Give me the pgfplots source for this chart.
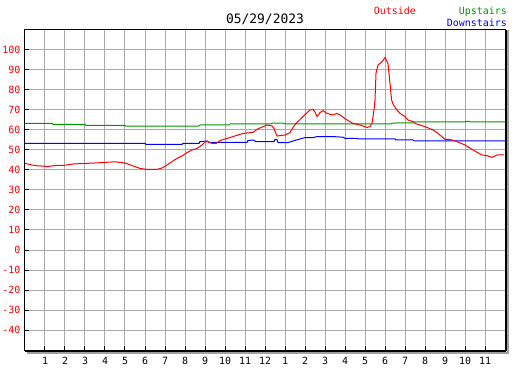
\documentclass[border=0pt]{standalone}
\usepackage{fontspec}
\setmainfont{DejaVu Sans Mono}
\usepackage{pgfplots}
\pgfplotsset{compat=1.18}
\definecolor{gridgray}{RGB}{170,170,170}
\definecolor{upgreen}{RGB}{0,150,0}
\definecolor{shadow}{RGB}{160,160,160}
\begin{document}
\begin{tikzpicture}
\useasboundingbox (-25bp,-20bp) rectangle (502bp,350bp);
\begin{axis}[
  at={(0,0)}, anchor=south west,
  scale only axis, width=480bp, height=320bp,
  xmin=0, xmax=24, ymin=-50, ymax=110,
  xtick={1,...,23},
  xticklabels={1,2,3,4,5,6,7,8,9,10,11,12,1,2,3,4,5,6,7,8,9,10,11},
  ytick={-40,-30,...,100},
  grid=major,
  major grid style={gridgray, line width=1bp},
  tick align=inside,
  tick pos=left,
  major tick length=4bp,
  tick style={black, line width=1bp},
  axis line style={black, line width=1bp},
  tick label style={font=\fontsize{10}{12}\selectfont},
  yticklabel style={red, xshift=-1bp},
  xticklabel style={yshift=-4bp},
  /pgf/number format/assume math mode=true,
  clip=true,
]
\addplot[upgreen, line width=1bp] coordinates {
(0,63.3) (1.35,63.3) (1.4,62.8) (3.0,62.8) (3.05,62.3) (5.0,62.3) (5.05,61.9)
(8.7,62.0) (8.75,62.5) (10.2,62.5) (10.25,63) (12.3,63) (12.35,63.4) (12.9,63.4)
(13.0,63) (18.3,63) (18.35,63.4) (18.6,63.5) (19.4,63.5) (19.45,64) (22,64)
(22.05,64.3) (22.2,64.3) (22.25,64) (24,64)
};
\addplot[blue, line width=1bp] coordinates {
(0,53.3) (6.0,53.3) (6.05,52.8) (7.85,52.8) (7.9,53.3) (8.7,53.3) (8.75,54.2)
(9.1,54.5) (9.2,53.8) (11.1,53.8) (11.15,54.7) (11.4,55) (11.55,54.2) (12.45,54.2)
(12.5,55.2) (12.6,55.2) (12.65,53.7) (13.15,53.7) (13.5,54.8) (13.75,55.5)
(14.0,56.2) (14.4,56.2) (14.6,56.7) (15.4,56.7) (15.9,56.4) (16.0,55.8)
(16.6,55.8) (16.65,55.6) (18.5,55.6) (18.55,55) (19.4,55) (19.45,54.5) (24,54.5)
};
\addplot[red, line width=1bp] coordinates {
(0,43.3) (0.3,42.6) (0.6,42.1) (1.0,41.9) (1.1,41.6) (1.3,42.0) (1.5,42.2)
(2.0,42.4) (2.4,43.0) (3.0,43.3) (3.5,43.5) (4.0,43.8) (4.5,44.1) (4.75,43.8)
(5.0,43.5) (5.25,42.6) (5.5,41.7) (5.75,40.8) (6.1,40.3) (6.6,40.3) (6.85,41)
(7.1,42.5) (7.35,44.2) (7.6,45.8) (7.85,47) (8.1,48.7) (8.35,50) (8.6,50.8)
(8.85,52.5) (9.0,54.0) (9.15,54.2) (9.3,53.4) (9.55,53.2) (9.75,54.7) (10.0,55.5)
(10.4,56.7) (10.9,58.3) (11.4,58.8) (11.6,60.3) (11.9,61.7) (12.1,62.5)
(12.35,62) (12.45,60.7) (12.6,57) (13.0,57.5) (13.25,58.7) (13.4,61.3)
(13.6,63.8) (13.9,66.7) (14.25,70) (14.4,70.3) (14.5,69) (14.6,66.7)
(14.75,68.7) (14.9,69.7) (15.1,68.3) (15.4,67.5) (15.6,68.3) (15.75,67.5)
(16.1,65) (16.4,63.3) (16.75,62.5) (17.1,61.3) (17.25,61.7) (17.35,63.3)
(17.45,70) (17.5,75) (17.55,88.3) (17.65,92.5) (17.8,93.7) (17.9,94.7)
(18.0,96.3) (18.15,93.3) (18.25,83.3) (18.33,75) (18.42,72.5) (18.6,70)
(18.75,68.3) (19.0,66.7) (19.15,65) (19.4,64.2) (19.5,63.3) (19.75,62.5)
(20.1,61.3) (20.4,60) (20.65,58.3) (21.0,55.3) (21.25,55.3) (21.6,54.2)
(22.0,52.5) (22.4,50) (22.85,47.5) (23.1,47.2) (23.35,46.3) (23.6,47.5) (23.95,47.5)
};
\end{axis}
\draw[black, line width=1bp] (481bp,-1bp) -- (481bp,320bp);
\draw[black, line width=1bp] (0bp,-1bp) -- (481bp,-1bp);
\draw[shadow, line width=2bp] (483bp,320bp) -- (483bp,-3bp) -- (2bp,-3bp);
\node[anchor=base, font=\fontsize{13}{15}\selectfont] at (240bp,326bp) {05/29/2023};
\node[anchor=base east, inner sep=0pt, red, font=\fontsize{10}{12}\selectfont] at (391bp,335bp) {Outside};
\node[anchor=base east, inner sep=0pt, upgreen, font=\fontsize{10}{12}\selectfont] at (482bp,335bp) {Upstairs};
\node[anchor=base east, inner sep=0pt, blue, font=\fontsize{10}{12}\selectfont] at (482bp,323bp) {Downstairs};
\end{tikzpicture}
\end{document}
